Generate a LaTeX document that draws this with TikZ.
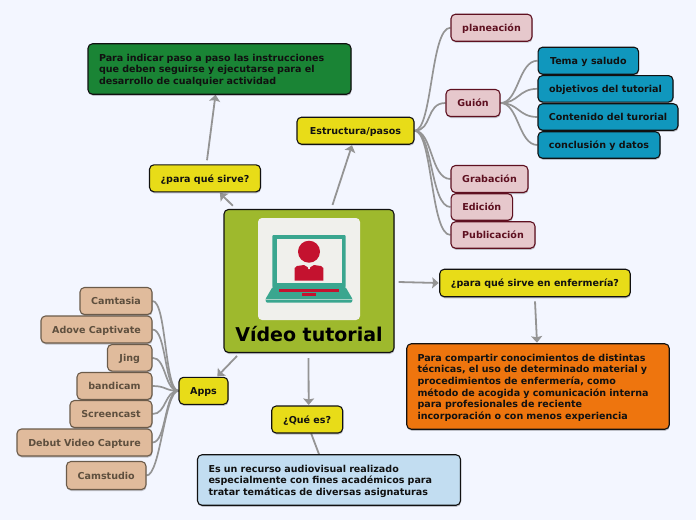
\documentclass[tikz,border=0pt]{standalone}
\usepackage{fontspec}
\setmainfont{DejaVu Sans}
\usetikzlibrary{arrows.meta,shadows,backgrounds}
\definecolor{bgc}{HTML}{F3F6FF}
\definecolor{ink}{HTML}{111111}
\definecolor{yel}{HTML}{E8DC18}
\definecolor{grn}{HTML}{1A8435}
\definecolor{tealb}{HTML}{1097BD}
\definecolor{lblue}{HTML}{C2DDF1}
\definecolor{orng}{HTML}{EE750E}
\definecolor{olive}{HTML}{9EB92D}
\definecolor{pinkb}{HTML}{E6C8CC}
\definecolor{wine}{HTML}{5E1020}
\definecolor{tanb}{HTML}{E0BB9C}
\definecolor{tanl}{HTML}{6B5B4A}
\definecolor{tant}{HTML}{5E4F3E}
\definecolor{lnk}{HTML}{949494}
\definecolor{lap}{HTML}{3AA68F}
\definecolor{redp}{HTML}{C4122F}
\definecolor{tile}{HTML}{F0F0EC}
\newcommand\topfix{\rule{0pt}{9.6pt}}
\tikzset{
  box/.style={draw=ink,line width=1.1pt,rounded corners=4.5pt,inner sep=0pt,
    font=\fontsize{9.55}{11.7}\bfseries\selectfont,text=ink,
    general shadow={shadow xshift=0.5pt,shadow yshift=-1.5pt,fill=black,opacity=.22}},
  oneline/.style={box,text height=8.6pt,text depth=1pt},
  yellowbox/.style={oneline,fill=yel},
  tealbox/.style={oneline,fill=tealb},
  pinkbox/.style={oneline,fill=pinkb,draw=wine,text=wine},
  tanbox/.style={oneline,fill=tanb,draw=tanl,text=tant},
  para/.style={box,align=left},
  arrowline/.style={draw=lnk,line width=1.8pt,-{Stealth[length=6.5pt,width=11pt,inset=1pt]}},
  plainline/.style={draw=lnk,line width=1.8pt},
  branch/.style={draw=lnk,line width=1.7pt}
}
\begin{document}
\begin{tikzpicture}[x=1pt,y=-1pt]
\useasboundingbox (0,0) rectangle (696,520);
% nodes
\node[box,fill=olive,minimum width=170,minimum height=143] (center) at (309,281) {};
\fill[tile,rounded corners=4pt] (258,218) rectangle (360,320);
% laptop icon
\fill[lap,rounded corners=1pt] (272.3,235) rectangle (345.7,287.5);
\fill[tile] (276.7,239.3) rectangle (341.7,282.7);
\fill[redp] (309,251.7) circle (11);
\fill[redp] (294.7,268) -- (297,266) -- (304,265) -- (309,268) -- (314,265) -- (321,266) -- (323.3,268) -- (323.3,280.7) -- (294.7,280.7) -- cycle;
\fill[tile] (307.5,265) -- (310.5,265) -- (309.7,269) -- (308.3,269) -- cycle;
\fill[lap,rounded corners=1pt] (272.5,287) -- (345.5,287) -- (352.5,299) -- (352,302.5) -- (266,302.5) -- (265.5,299) -- cycle;
\fill[tile!60!lap] (266,298.6) rectangle (352,299.6);
\fill[redp] (279.3,289) rectangle (339,291.7);
\fill[redp] (302.3,293) rectangle (315.7,296);
\node[font=\fontsize{19}{22}\bfseries\selectfont,text=black,inner sep=0pt,anchor=base] (title) at (309,341.5) {Vídeo tutorial};

\node[yellowbox,minimum width=111,minimum height=27] (sirve) at (205,178.3) {¿para qué sirve?};
\node[para,fill=grn,minimum width=263,minimum height=50.5,text width=241] (green) at (219.5,69) {\topfix Para indicar paso a paso las instrucciones\\que deben seguirse y ejecutarse para el\\desarrollo de cualquier actividad};
\node[yellowbox,minimum width=117,minimum height=27] (estr) at (355.5,130.7) {Estructura/pasos};
\node[pinkbox,minimum width=81,minimum height=27] (plan) at (491.5,27.7) {planeación};
\node[pinkbox,minimum width=54,minimum height=27] (guion) at (473,103) {Guión};
\node[pinkbox,minimum width=77,minimum height=27] (grab) at (489.5,179) {Grabación};
\node[pinkbox,minimum width=61.5,minimum height=26.5] (edic) at (481.8,207) {Edición};
\node[pinkbox,minimum width=84,minimum height=26.5] (publ) at (493,235) {Publicación};
\node[tealbox,minimum width=100.5,minimum height=27] (tema) at (588.3,60.7) {Tema y saludo};
\node[tealbox,minimum width=135,minimum height=26.5] (obje) at (605.5,88.8) {objetivos del tutorial};
\node[tealbox,minimum width=140,minimum height=26.5] (cont) at (608,117) {Contenido del turorial};
\node[tealbox,minimum width=122,minimum height=26.5] (conc) at (599,145) {conclusión y datos};
\node[yellowbox,minimum width=190.5,minimum height=27.5] (enf) at (535,283) {¿para qué sirve en enfermería?};
\node[para,fill=orng,minimum width=262.5,minimum height=85.5,text width=241] (orange) at (538,386.5) {\topfix Para compartir conocimientos de distintas\\técnicas, el uso de determinado material y\\procedimientos de enfermería, como\\método de acogida y comunicación interna\\para profesionales de reciente\\incorporación o con menos experiencia};
\node[yellowbox,minimum width=71,minimum height=27] (quees) at (307.2,419.5) {¿Qué es?};
\node[para,fill=lblue,minimum width=263,minimum height=50.5,text width=241] (blue) at (329,480) {\topfix Es un recurso audiovisual realizado\\especialmente con fines académicos para\\tratar temáticas de diversas asignaturas};
\node[yellowbox,minimum width=49,minimum height=27] (apps) at (203.5,390.8) {Apps};
\node[tanbox,minimum width=72,minimum height=27] (camt) at (116,301) {Camtasia};
\node[tanbox,minimum width=111,minimum height=27] (adov) at (96.5,329.5) {Adove Captivate};
\node[tanbox,minimum width=44.5,minimum height=26.5] (jing) at (129.7,357.8) {Jing};
\node[tanbox,minimum width=75,minimum height=27] (band) at (114.5,386) {bandicam};
\node[tanbox,minimum width=82,minimum height=27] (scre) at (111,414) {Screencast};
\node[tanbox,minimum width=135,minimum height=27] (debu) at (84.5,442.5) {Debut Video Capture};
\node[tanbox,minimum width=79.5,minimum height=28] (cams) at (106.2,475.5) {Camstudio};

\begin{scope}[on background layer]
\fill[bgc] (0,0) rectangle (696,520);
% arrows
\draw[arrowline,shorten <=4.5pt,shorten >=1pt] (center) -- (sirve);
\draw[arrowline] ([xshift=2pt,yshift=4pt]sirve.north) -- ([xshift=-4pt,yshift=0pt]green.south);
\draw[arrowline] ([xshift=23.5pt,yshift=4pt]center.north) -- ([xshift=-3.5pt,yshift=-0.5pt]estr.south);
\draw[arrowline] ([xshift=4pt,yshift=-1pt]center.east) -- ([xshift=-0.5pt]enf.west);
\draw[arrowline] ([yshift=-4pt]enf.south) -- ([xshift=-1pt,yshift=0.5pt]orange.north);
\draw[arrowline,shorten <=4pt,shorten >=0.5pt] (center) -- (apps);
\draw[arrowline] ([xshift=-0.5pt,yshift=-5pt]center.south) -- ([xshift=1.5pt,yshift=0.5pt]quees.north);
\draw[plainline] ([xshift=4pt]quees.south) -- ([xshift=-10pt]blue.north);
% branches
\foreach \t in {plan,guion,grab,edic,publ}
  \draw[branch] (estr.east) .. controls +(18,0) and +(-20,0) .. (\t.west);
\foreach \t in {tema,obje,cont,conc}
  \draw[branch] (guion.east) .. controls +(18,0) and +(-19,0) .. (\t.west);
\foreach \t in {camt,adov,jing,band,scre,debu,cams}
  \draw[branch] (apps.west) .. controls +(-14,0) and +(14,0) .. (\t.east);
\end{scope}
\end{tikzpicture}
\end{document}
